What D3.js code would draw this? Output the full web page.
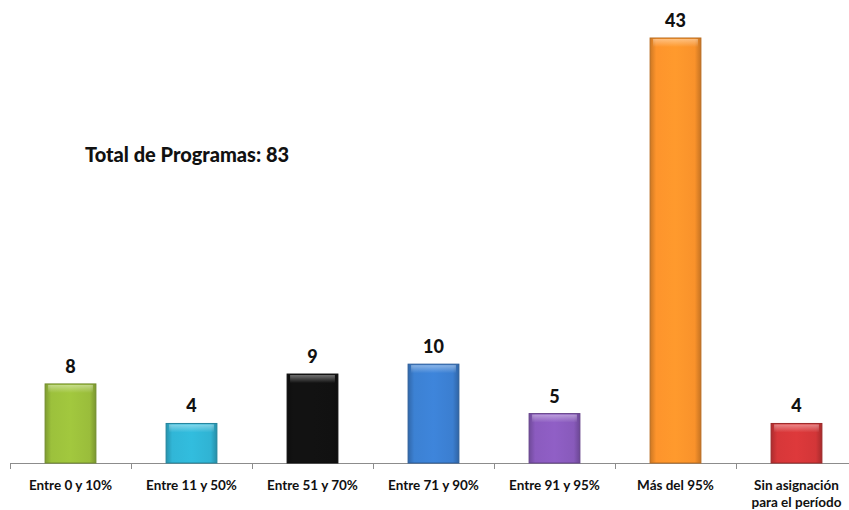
<!DOCTYPE html>
<html>
<head>
<meta charset="utf-8">
<script src="https://cdn.jsdelivr.net/npm/d3@7"></script>
<style>
  body { margin: 0; background: #fff; }
  text { font-family: Lato, "Open Sans", sans-serif; font-weight: bold; fill: #111; }
</style>
</head>
<body>
<div id="chart"></div>
<script>
var width = 849;
var height = 510;

var categories = ["Entre 0 y 10%", "Entre 11 y 50%", "Entre 51 y 70%", "Entre 71 y 90%", "Entre 91 y 95%", "Más del 95%", "Sin asignación|para el período"];
var values = [8, 4, 9, 10, 5, 43, 4];
var bar_colors = ["#97ba3a", "#2fb0cf", "#111111", "#3a7ccc", "#8658b8", "#f58f2a", "#cf3537"];
var total_label = "Total de Programas: 83";

var svg = d3.select("#chart").append("svg")
    .attr("width", width)
    .attr("height", height);

var x = d3.scaleBand()
    .domain(categories)
    .range([10, 857])
    .paddingInner(0.58)
    .paddingOuter(0.29);

var y = d3.scaleLinear()
    .domain([0, 43])
    .range([463, 38]);

var defs = svg.append("defs");
bar_colors.forEach(function(c, i) {
  var g = defs.append("linearGradient").attr("id", "grad" + i)
      .attr("x1", "0").attr("x2", "1").attr("y1", "0").attr("y2", "0");
  var base = d3.color(c);
  g.append("stop").attr("offset", "0").attr("stop-color", base.darker(0.5));
  g.append("stop").attr("offset", "0.12").attr("stop-color", base.brighter(0.1));
  g.append("stop").attr("offset", "0.5").attr("stop-color", base.brighter(0.2));
  g.append("stop").attr("offset", "0.88").attr("stop-color", base.brighter(0.05));
  g.append("stop").attr("offset", "1").attr("stop-color", base.darker(0.6));
});
var shine = defs.append("linearGradient").attr("id", "shine")
    .attr("x1", "0").attr("x2", "0").attr("y1", "0").attr("y2", "1");
shine.append("stop").attr("offset", "0").attr("stop-color", "#fff").attr("stop-opacity", 0.4);
shine.append("stop").attr("offset", "1").attr("stop-color", "#fff").attr("stop-opacity", 0);

// axis
var axisY = y(0);
svg.append("line")
    .attr("x1", 10).attr("x2", width)
    .attr("y1", axisY + 0.5).attr("y2", axisY + 0.5)
    .attr("stroke", "#8c8c8c");
var step = x.step();
svg.selectAll("line.tick").data(d3.range(categories.length + 1)).enter()
    .append("line")
    .attr("class", "tick")
    .attr("x1", function(i){ return 10.5 + i * step })
    .attr("x2", function(i){ return 10.5 + i * step })
    .attr("y1", axisY).attr("y2", axisY + 6)
    .attr("stroke", "#8c8c8c");

var bars = svg.selectAll("g.bar").data(values).enter()
    .append("g").attr("class", "bar");

bars.append("rect")
    .attr("x", function(d, i){ return x(categories[i]) })
    .attr("y", function(d){ return y(d) })
    .attr("width", x.bandwidth())
    .attr("height", function(d){ return y(0) - y(d) })
    .attr("fill", function(d, i){ return "url(#grad" + i + ")" })
    .attr("stroke", function(d, i){ return d3.color(bar_colors[i]).darker(0.8) })
    .attr("stroke-width", 1);

bars.append("rect")
    .attr("x", function(d, i){ return x(categories[i]) + 3 })
    .attr("y", function(d){ return y(d) + 1 })
    .attr("width", x.bandwidth() - 6)
    .attr("height", 8)
    .attr("fill", "url(#shine)");

bars.append("text")
    .attr("x", function(d, i){ return x(categories[i]) + x.bandwidth() / 2 })
    .attr("y", function(d){ return y(d) - 11 })
    .attr("text-anchor", "middle")
    .style("font-size", "18px")
    .style("font-weight", "900")
    .text(function(d){ return d });

svg.selectAll("text.cat").data(categories).enter()
    .append("text")
    .attr("class", "cat")
    .attr("x", function(d){ return x(d) + x.bandwidth() / 2 })
    .attr("y", 490)
    .attr("text-anchor", "middle")
    .style("font-size", "13.5px")
    .each(function(d) {
      var parts = d.split("|");
      var t = d3.select(this);
      parts.forEach(function(p, j) {
        t.append("tspan")
          .attr("x", x(d) + x.bandwidth() / 2)
          .attr("dy", j == 0 ? 0 : 17)
          .text(p);
      });
    });

svg.append("text")
    .attr("x", 85)
    .attr("y", 162)
    .style("font-size", "20px")
    .style("font-weight", "900")
    .text(total_label);
</script>
</body>
</html>
